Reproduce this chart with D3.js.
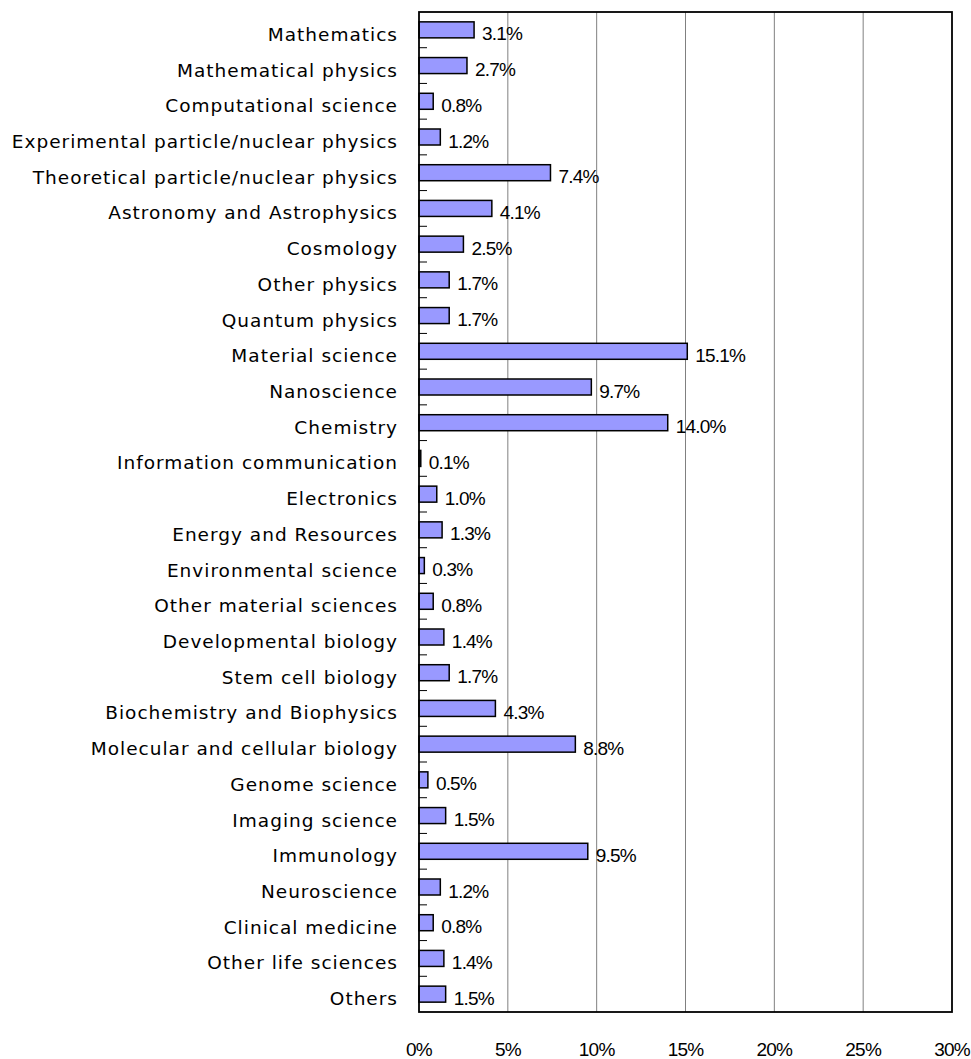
<!DOCTYPE html>
<html><head><meta charset="utf-8">
<script src="https://cdn.jsdelivr.net/npm/d3@7"></script>
<style>body{margin:0;background:#fff}</style>
</head><body>
<svg id="c" width="971" height="1059"></svg>
<script>
const categories = ["Mathematics","Mathematical physics","Computational science","Experimental particle/nuclear physics","Theoretical particle/nuclear physics","Astronomy and Astrophysics","Cosmology","Other physics","Quantum physics","Material science","Nanoscience ","Chemistry","Information communication","Electronics","Energy and Resources","Environmental science","Other material sciences","Developmental biology","Stem cell biology","Biochemistry and Biophysics","Molecular and cellular biology","Genome science","Imaging science","Immunology","Neuroscience","Clinical medicine","Other life sciences","Others"];
const values = [3.1,2.7,0.8,1.2,7.4,4.1,2.5,1.7,1.7,15.1,9.7,14.0,0.1,1.0,1.3,0.3,0.8,1.4,1.7,4.3,8.8,0.5,1.5,9.5,1.2,0.8,1.4,1.5];
const tickValues = [0,5,10,15,20,25,30];

const svg = d3.select("#c");
const L = 419, R = 952, T = 12, B = 1012;
const x = d3.scaleLinear().domain([0,30]).range([L,R]);
const y = d3.scaleBand().domain(categories).range([T,B]);
const catFont = "DejaVu Sans, sans-serif";
const valFont = "Liberation Sans, Arial, sans-serif";

// gridlines
svg.append("g").selectAll("line").data(tickValues.slice(1,-1)).join("line")
  .attr("x1", d=>x(d)).attr("x2", d=>x(d)).attr("y1", T).attr("y2", B)
  .attr("stroke", "#808080").attr("stroke-width", 1);

// category ticks (inward)
const bounds = d3.range(1, categories.length).map(i => T + i*y.step());
svg.append("g").selectAll("line").data(bounds).join("line")
  .attr("x1", L).attr("x2", L+8).attr("y1", d=>d).attr("y2", d=>d)
  .attr("stroke", "#000").attr("stroke-width", 1);

// bars
const bh = 16;
svg.append("g").selectAll("rect").data(values).join("rect")
  .attr("x", x(0)).attr("y", (d,i)=>y(categories[i]) + y.bandwidth()/2 - bh/2)
  .attr("width", d=>x(d)-x(0)).attr("height", bh)
  .attr("fill", "#9999ff").attr("stroke", "#000").attr("stroke-width", 1.5);

// value labels
svg.append("g").selectAll("text").data(values).join("text")
  .attr("x", d=>x(d)+8).attr("y", (d,i)=>y(categories[i]) + y.bandwidth()/2 + 10.5)
  .attr("font-family", valFont).attr("font-size", 19).attr("letter-spacing", -0.8)
  .text(d=>d.toFixed(1)+"%");

// category labels
svg.append("g").selectAll("text").data(categories).join("text")
  .attr("x", 398).attr("y", d=>y(d)+y.bandwidth()/2 + 11)
  .attr("text-anchor","end").attr("font-family", catFont).attr("font-size", 18.5)
  .attr("letter-spacing", 1)
  .text(d=>d);

// frame
svg.append("rect").attr("x", L).attr("y", T).attr("width", R-L).attr("height", B-T)
  .attr("fill","none").attr("stroke","#000").attr("stroke-width",1.8);

// x tick labels
svg.append("g").selectAll("text").data(tickValues).join("text")
  .attr("x", d=>x(d)).attr("y", 1056).attr("text-anchor","middle")
  .attr("font-family", valFont).attr("font-size", 19).attr("letter-spacing", -0.8)
  .text(d=>d+"%");
</script>
</body></html>
